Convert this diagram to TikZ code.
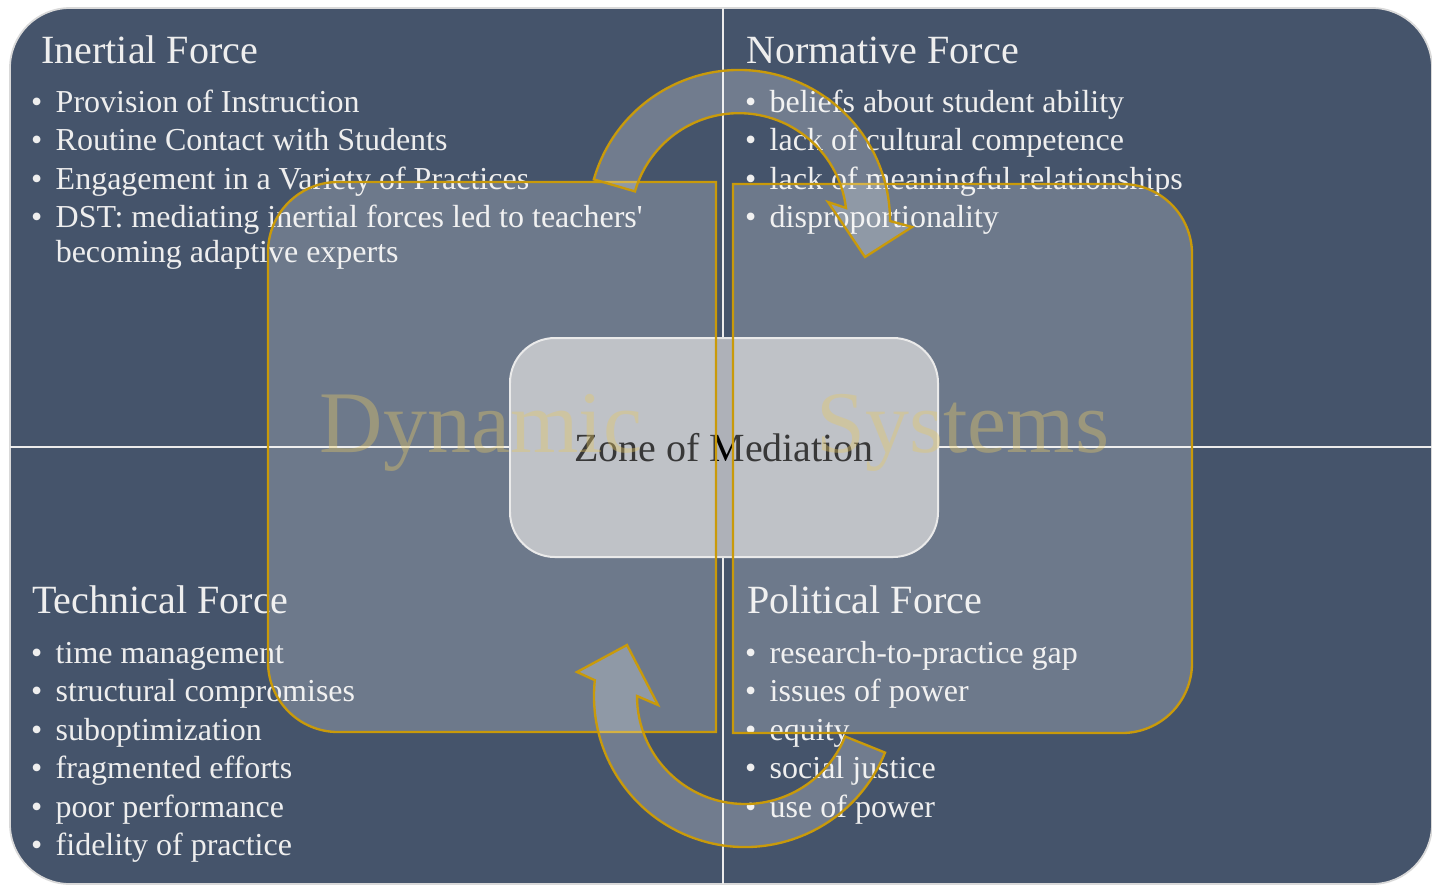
\documentclass[tikz,border=0pt]{standalone}
\usepackage{fontspec}
\setmainfont{Liberation Serif}
\usetikzlibrary{positioning}

\definecolor{slate}{HTML}{45546B}
\definecolor{gold}{HTML}{C99A0A}
\definecolor{paletext}{HTML}{EEEEEE}
\definecolor{zonefill}{HTML}{AEB1B8}
\definecolor{ghostgold}{HTML}{E6C864}

\newcommand{\bulletrows}[1]{\begin{tabular}[t]{@{}l@{\hspace{0.4cm}}l@{}}#1\end{tabular}}

\begin{document}
\begin{tikzpicture}[x=0.03cm,y=-0.03cm,
    heading/.style={anchor=base west,inner sep=0pt,text=paletext,font=\fontsize{34.2}{40}\selectfont},
    itemlist/.style={anchor=base west,inner sep=0pt,text=paletext,font=\fontsize{27.3}{32.9}\selectfont},
    divider/.style={draw=white!92!black,line width=1.7pt},
    halfbox/.style={fill=white,fill opacity=0.22,draw=gold,line width=2pt},
    turnarrow/.style={fill=white,fill opacity=0.24,draw=gold,line width=2pt},
    zone/.style={draw=white!90!black,fill=zonefill,line width=1.7pt,rounded corners=1.35cm,
        minimum width=12.84cm,minimum height=6.57cm,font=\fontsize{34.1}{40}\selectfont,text=black},
    watermark/.style={anchor=base,inner sep=0pt,text=ghostgold,text opacity=0.38,font=\fontsize{75}{80}\selectfont}]

    \fill[white] (0,0) rectangle (1432,884);
    \useasboundingbox (0,0) rectangle (1432,884);
    \path[fill=slate,draw=black!15,line width=1.5pt,rounded corners=1.8cm] (10,8) rectangle (1432,884);

    \draw[divider] (723,8) -- (723,884);
    \draw[divider] (10,447) -- (1432,447);

    \node[heading] (inertial) at (41,63) {Inertial Force};
    \node[itemlist] (inertiallist) at (31,112) {\bulletrows{
        \textbullet & Provision of Instruction\\
        \textbullet & Routine Contact with Students\\
        \textbullet & Engagement in a Variety of Practices\\
        \textbullet & DST: mediating inertial forces led to teachers\textquotesingle\\[-3.2pt]
        & becoming adaptive experts}};

    \node[heading] (normative) at (746,63) {Normative Force};
    \node[itemlist] (normativelist) at (745,112) {\bulletrows{
        \textbullet & beliefs about student ability\\
        \textbullet & lack of cultural competence\\
        \textbullet & lack of meaningful relationships\\
        \textbullet & disproportionality}};

    \node[heading] (technical) at (32,613) {Technical Force};
    \node[itemlist] (technicallist) at (31,663) {\bulletrows{
        \textbullet & time management\\
        \textbullet & structural compromises\\
        \textbullet & suboptimization\\
        \textbullet & fragmented efforts\\
        \textbullet & poor performance\\
        \textbullet & fidelity of practice}};

    \node[heading] (political) at (747,613) {Political Force};
    \node[itemlist] (politicallist) at (745,663) {\bulletrows{
        \textbullet & research-to-practice gap\\
        \textbullet & issues of power\\
        \textbullet & equity\\
        \textbullet & social justice\\
        \textbullet & use of power}};

    \node[zone] (zonebox) at (724,447.5) {Zone of Mediation};

    \path[halfbox] (716,182) -- (338,182) arc[start angle=90,end angle=180,radius=2.1cm]
        -- (268,662) arc[start angle=180,end angle=270,radius=2.1cm] -- (716,732) -- cycle;
    \path[halfbox] (733,184) -- (1122,184) arc[start angle=90,end angle=0,radius=2.1cm]
        -- (1192,663) arc[start angle=0,end angle=-90,radius=2.1cm] -- (733,733) -- cycle;

    \coordinate (upturn) at (739,221);
    \coordinate (downturn) at (745,696);
    \path[turnarrow] (upturn) ++(164:4.53cm) arc[start angle=164,end angle=0,radius=4.53cm]
        -- (912,227) -- (865,257) -- (828,202) -- (846,208)
        arc[start angle=7,end angle=164,radius=3.24cm] -- cycle;
    \path[turnarrow] (downturn) ++(-22:4.53cm) arc[start angle=-22,end angle=-186,radius=4.53cm]
        -- (577,672) -- (627,645) -- (658,705) -- (637,696)
        arc[start angle=180,end angle=338,radius=3.24cm] -- cycle;

    \node[watermark] (dynamic) at (481,452) {Dynamic};
    \node[watermark] (systems) at (963,452) {Systems};
\end{tikzpicture}
\end{document}
